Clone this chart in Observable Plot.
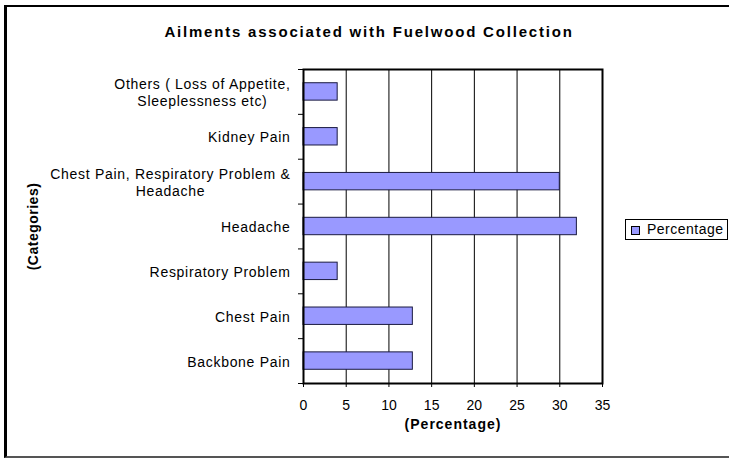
<!DOCTYPE html>
<html>
<head>
<meta charset="utf-8">
<script src="https://cdn.jsdelivr.net/npm/d3@7"></script>
<script src="https://cdn.jsdelivr.net/npm/@observablehq/plot@0.6"></script>
<style>
  html, body { margin: 0; padding: 0; background: #fff; }
  #wrap { position: relative; width: 729px; height: 458px; overflow: hidden; font-family: "Liberation Sans", Arial, sans-serif; }
  #frame { position: absolute; left: 4px; top: 5px; width: 800px; height: 449px;
           border-left: 3px solid #000; border-top: 2px solid #000; border-bottom: 2px solid #555; }
  #title { position: absolute; left: 0; top: 23px; width: 738px; text-align: center;
           font-size: 15px; line-height: 18px; font-weight: bold; letter-spacing: 1.8px; color: #000; }
  #chart { position: absolute; left: 0; top: 0; }
  #legend { position: absolute; left: 625px; top: 219px; width: 101px; height: 19px;
            border: 1px solid #000; background: #fff; font-size: 14px; letter-spacing: 0.5px; }
  #legend .sw { position: absolute; left: 5px; top: 6px; width: 7px; height: 7px; background: #9999ff; border: 1px solid #000; }
  #legend .lb { position: absolute; left: 21px; top: 1px; line-height: 17px; white-space: nowrap; }
</style>
</head>
<body>
<div id="wrap">
  <div id="frame"></div>
  <div id="chart"></div>
  <div id="title">Ailments associated with Fuelwood Collection</div>
</div>
<script>
// Categories, listed top to bottom as in the chart
const categories = [
  "Others ( Loss of Appetite,\nSleeplessness etc)",
  "Kidney Pain",
  "Chest Pain, Respiratory Problem &\nHeadache",
  "Headache",
  "Respiratory Problem",
  "Chest Pain",
  "Backbone Pain"
];
const percentage = [4, 4, 30, 32, 4, 12.8, 12.8];
const xTicks = [0, 5, 10, 15, 20, 25, 30, 35];
const seriesName = "Percentage";

const n = categories.length;
const data = categories.map((c, i) => ({category: c, value: percentage[i], pos: n - 1 - i + 0.5}));
const boundaries = d3.range(0, n + 1);

const plot = Plot.plot({
  width: 729,
  height: 458,
  marginTop: 69,
  marginRight: 127,
  marginBottom: 75,
  marginLeft: 303,
  style: {fontFamily: "Liberation Sans, Arial, sans-serif", fontSize: "14px", background: "transparent", color: "#000"},
  x: {domain: [0, 35]},
  y: {domain: [0, n]},
  marks: [
    Plot.gridX({ticks: xTicks.filter(t => t > 0 && t < 35), stroke: "#000", strokeOpacity: 1, strokeWidth: 1}),
    Plot.rect(data, {x1: 0, x2: "value", y1: d => d.pos - 0.194, y2: d => d.pos + 0.194,
      fill: "#9999ff", stroke: "#1a1a40", strokeWidth: 1}),
    Plot.axisX({ticks: xTicks, tickSize: 4, tickPadding: 13, label: null, fontSize: 14, stroke: "#000"}),
    Plot.axisY({ticks: boundaries, tickSize: 5, tickFormat: () => "", label: null, stroke: "#000"}),
    Plot.axisY({ticks: data.map(d => d.pos), tickSize: 0, tickPadding: 13, label: null,
      tickFormat: p => data.find(d => d.pos === p).category, fontSize: 14, lineHeight: 1.25}),
    Plot.frame({stroke: "#000", strokeWidth: 2}),
    Plot.text(["(Percentage)"], {frameAnchor: "bottom", dy: 41, lineAnchor: "middle", text: d => d,
      fontWeight: "bold", fontSize: 14}),
    Plot.text(["(Categories)"], {frameAnchor: "left", dx: -270, rotate: -90, lineAnchor: "middle",
      textAnchor: "middle", text: d => d, fontWeight: "bold", fontSize: 14})
  ]
});
document.getElementById("chart").appendChild(plot);

// letter spacing for axis titles
plot.querySelectorAll("text").forEach(t => {
  if (t.textContent === "(Percentage)") t.style.letterSpacing = "1px";
  if (t.textContent === "(Categories)") t.style.letterSpacing = "0.5px";
});

// Center multi-line category labels (Excel style): block right-aligned, lines centered
const flat = new Set(categories.map(c => c.replace(/\n/g, "")));
plot.querySelectorAll("text").forEach(t => {
  if (!flat.has(t.textContent)) return;
  t.style.letterSpacing = "0.7px";
  const b = t.getBBox();
  const c = b.x + b.width / 2;
  t.setAttribute("text-anchor", "middle");
  t.style.textAnchor = "middle";
  const spans = t.querySelectorAll("tspan");
  const setX = v => {
    if (spans.length) spans.forEach(s => s.setAttribute("x", v));
    else t.setAttribute("x", v);
  };
  setX(c);
  const b2 = t.getBBox();
  const d = c - (b2.x + b2.width / 2);
  if (Math.abs(d) > 0.1) setX(c + d);
});

// Legend
const legend = document.createElement("div");
legend.id = "legend";
legend.innerHTML = '<div class="sw"></div><div class="lb"></div>';
legend.querySelector(".lb").textContent = seriesName;
document.getElementById("wrap").appendChild(legend);
</script>
</body>
</html>
